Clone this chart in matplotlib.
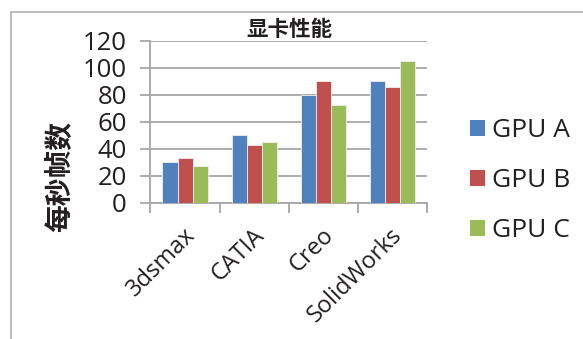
import numpy as np
import matplotlib.pyplot as plt
from matplotlib.patches import Rectangle, Patch

plt.rcParams['font.family'] = ['Open Sans', 'Noto Sans CJK SC', 'DejaVu Sans']
cjk = ['Noto Sans CJK SC', 'DejaVu Sans']

categories = ['3dsmax', 'CATIA', 'Creo', 'SolidWorks']
series = ['GPU A', 'GPU B', 'GPU C']
gpu_a = [30, 50, 80, 90]
gpu_b = [33, 43, 90, 85.5]
gpu_c = [27, 45, 72, 105]
colors = ['#4F81BD', '#C0504D', '#9BBB59']
txt = '#231f20'
grey = '#a6a6a6'

fig = plt.figure(figsize=(5.83, 3.39), dpi=100)
ax = fig.add_axes([0.258, 0.402, 0.475, 0.478])

x = np.arange(len(categories))
w = 0.217
for i, (vals, c) in enumerate(zip([gpu_a, gpu_b, gpu_c], colors)):
    ax.bar(x + (i - 1) * w, vals, width=w, color=c, edgecolor='#f0f0f0',
           linewidth=0.6, zorder=3)

ax.set_xlim(-0.5, len(categories) - 0.5)
ax.set_ylim(0, 120)
ax.set_yticks(np.arange(0, 121, 20))
ax.grid(axis='y', color=grey, linewidth=1.3, zorder=0)
ax.set_axisbelow(True)

# tick marks between categories, labels under the category centres
ax.set_xticks(np.arange(-0.5, len(categories), 1.0))
ax.set_xticklabels([])
ax.set_xticks(x - 0.03, minor=True)
ax.set_xticklabels(categories, minor=True, rotation=45, ha='right',
                   va='top', rotation_mode='anchor', fontsize=17, color=txt)
ax.tick_params(axis='x', which='minor', length=0, pad=15)
ax.tick_params(axis='x', which='major', length=7, width=1.3, color=grey)
ax.tick_params(axis='y', length=7, width=1.3, color=grey, pad=10,
               labelsize=18.5, labelcolor=txt)

for s in ['top', 'right']:
    ax.spines[s].set_visible(False)
for s in ['left', 'bottom']:
    ax.spines[s].set_color(grey)
    ax.spines[s].set_linewidth(1.3)

fig.text(289 / 583, 1 - 30 / 339, '显卡性能', family=cjk, fontsize=15.5,
         fontweight='bold', ha='center', va='center', color=txt)
fig.text(60.5 / 583, 1 - 176 / 339, '每秒帧数', family=cjk, fontsize=20,
         fontweight='bold', rotation=90, ha='center', va='center', color=txt)

handles = [Patch(facecolor=c, edgecolor='none') for c in colors]
fig.legend(handles, series, loc='center left', bbox_to_anchor=(0.806, 0.467),
           frameon=False, fontsize=19, handlelength=0.57, handleheight=0.57,
           handletextpad=0.25, labelspacing=0.95, labelcolor=txt,
           borderaxespad=0, borderpad=0)

fig.patches.append(Rectangle((0.019, -0.5), 1.5, 1.465, transform=fig.transFigure,
                             fill=False, edgecolor='#b0b0b0', linewidth=1.2))

fig.savefig('out.png', dpi=100)
